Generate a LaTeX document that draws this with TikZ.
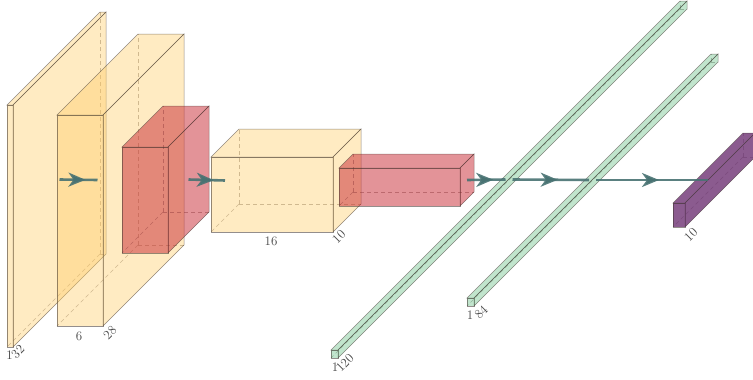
\documentclass[tikz,border=0pt]{standalone}
\usetikzlibrary{arrows.meta,decorations.markings}
\definecolor{convc}{RGB}{255,204,102}
\definecolor{poolc}{RGB}{200,40,50}
\definecolor{fcc}{RGB}{100,190,130}
\definecolor{softc}{RGB}{110,50,115}
\definecolor{edgec}{RGB}{60,50,45}
\definecolor{connc}{RGB}{72,114,114}
\definecolor{labelc}{RGB}{70,70,70}
\newcommand{\cuboid}[8]{%
  \draw[hiddenedge] ({#2+#6},{#3+#5-#6}) -- ({#2+#4+#6},{#3+#5-#6});
  \draw[hiddenedge] ({#2+#6},{#3+#5-#6}) -- ({#2+#6},{#3-#6});
  \draw[hiddenedge] ({#2+#6},{#3+#5-#6}) -- (#2,{#3+#5});
  \filldraw[boxface, fill=#7, fill opacity=#8] (#2,#3) rectangle ({#2+#4},{#3+#5});
  \filldraw[boxface, fill=#7, fill opacity=#8] (#2,#3) -- ({#2+#6},{#3-#6}) -- ({#2+#4+#6},{#3-#6}) -- ({#2+#4},#3) -- cycle;
  \filldraw[boxface, fill=#7, fill opacity=#8] ({#2+#4},#3) -- ({#2+#4+#6},{#3-#6}) -- ({#2+#4+#6},{#3+#5-#6}) -- ({#2+#4},{#3+#5}) -- cycle;
  \coordinate (#1-west) at ({#2+#6/2},{#3+#5/2-#6/2});
  \coordinate (#1-east) at ({#2+#4+#6/2},{#3+#5/2-#6/2});
}
\tikzset{
  boxface/.style={draw=edgec, draw opacity=0.55, line width=0.5pt},
  hiddenedge/.style={draw=edgec, draw opacity=0.4, line width=0.5pt, dash pattern=on 4pt off 3pt},
  conn/.style={draw=connc, draw opacity=0.9, line width=2.6pt,
    postaction={decorate},
    decoration={markings, mark=at position 0.5 with {\arrow[xshift=7pt, fill=connc, draw=none]{Stealth[length=17pt,width=14pt,inset=5pt]}}}},
  lab/.style={text=labelc, font=\fontsize{13}{15}\selectfont, inner sep=0pt},
  rlab/.style={lab, rotate=45}
}
\begin{document}
\begin{tikzpicture}[x=1pt,y=-1pt]
\useasboundingbox (0,0) rectangle (753,380);
\cuboid{c1}{7}{105}{6}{242}{93}{convc}{0.4}
\cuboid{c2}{57}{115}{46}{211}{81}{convc}{0.4}
\cuboid{p1}{122}{147}{46}{106}{41}{poolc}{0.5}
\cuboid{c3}{211}{157}{122}{75}{28}{convc}{0.4}
\cuboid{p2}{339}{168}{121}{38}{14}{poolc}{0.5}
\cuboid{f1}{331}{350}{7}{8}{349}{fcc}{0.4}
\cuboid{f2}{467}{298}{7}{8}{244}{fcc}{0.4}
\cuboid{sm}{673}{203}{12}{24}{70}{softc}{0.8}
\node[lab] (l1) at (9.5,355) {1};
\node[rlab] (l2) at (18,352) {32};
\node[lab] (l3) at (79,336) {6};
\node[rlab] (l4) at (110,333) {28};
\node[lab] (l5) at (271,241) {16};
\node[rlab] (l6) at (339,237) {10};
\node[lab] (l7) at (335,367) {1};
\node[rlab] (l8) at (345,363) {120};
\node[lab] (l9) at (470,315) {1};
\node[rlab] (l10) at (481,312) {84};
\node[rlab] (l11) at (691,235) {10};
\draw[conn] (c1-east) -- (c2-west);
\draw[conn] (p1-east) -- (c3-west);
\draw[conn] (p2-east) -- (f1-west);
\draw[conn] (f1-east) -- (f2-west);
\draw[conn] (f2-east) -- (sm-west);
\end{tikzpicture}
\end{document}
